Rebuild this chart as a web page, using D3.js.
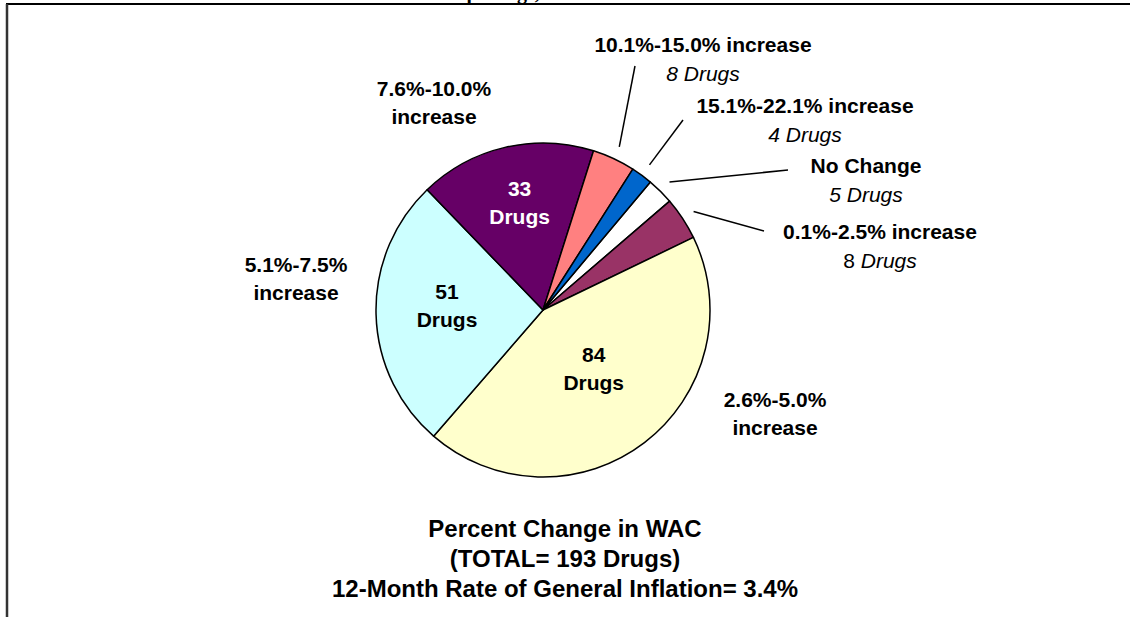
<!DOCTYPE html>
<html>
<head>
<meta charset="utf-8">
<script src="https://cdn.jsdelivr.net/npm/d3@7"></script>
<style>
body { margin: 0; background: #fff; }
svg { display: block; }
text { font-family: Arial, "Liberation Sans", sans-serif; }
</style>
</head>
<body>
<div id="chart"></div>
<script>
// slices, in the order they go round the pie (clockwise)
var categories = ["No Change", "0.1%-2.5% increase", "2.6%-5.0% increase", "5.1%-7.5% increase",
  "7.6%-10.0% increase", "10.1%-15.0% increase", "15.1%-22.1% increase"];
var drugCounts = [5, 8, 84, 51, 33, 8, 4];
var sliceColors = ["#ffffff", "#993366", "#ffffcc", "#ccffff", "#660066", "#ff8080", "#0066cc"];

var titleLines = ["Percent Change in WAC", "(TOTAL= 193 Drugs)", "12-Month Rate of General Inflation= 3.4%"];

var width = 1130, height = 617;
var cx = 543, cy = 310, radius = 167;

// where the outside labels sit (centre x, first baseline) and where their leader lines start;
// inner = how far out (fraction of radius) the count sits inside a big slice
var labelLayout = {
  "No Change":            {x: 866, y: 173, lead: [788, 170], small: true},
  "0.1%-2.5% increase":   {x: 880, y: 239, lead: [764, 231], small: true},
  "2.6%-5.0% increase":   {x: 775, y: 407, inner: 0.5},
  "5.1%-7.5% increase":   {x: 296, y: 272, inner: 0.575},
  "7.6%-10.0% increase":  {x: 434, y: 96, inner: 0.615},
  "10.1%-15.0% increase": {x: 703, y: 52, lead: [635, 66], small: true},
  "15.1%-22.1% increase": {x: 805, y: 113, lead: [683, 120], small: true}
};

var data = categories.map(function(c, i) {
  return {cat: c, value: drugCounts[i], color: sliceColors[i]};
});

var svg = d3.select("#chart").append("svg")
  .attr("width", width)
  .attr("height", height);

svg.append("rect").attr("width", width).attr("height", height).attr("fill", "#fff");

// cut-off page heading above the frame
svg.append("text")
  .attr("x", 445).attr("y", -1)
  .style("font-family", "'Liberation Serif', 'Times New Roman', serif")
  .style("font-weight", "bold").style("font-size", "20px")
  .text("Top Drugs,");

// frame
svg.append("line").attr("x1", 6).attr("x2", width).attr("y1", 4).attr("y2", 4)
  .attr("stroke", "#000").attr("stroke-width", 2);
svg.append("line").attr("x1", 7).attr("x2", 7).attr("y1", 4).attr("y2", height)
  .attr("stroke", "#333").attr("stroke-width", 2.5);

var pie = d3.pie()
  .sort(null)
  .value(function(d) { return d.value; })
  .startAngle(40 * Math.PI / 180)
  .endAngle(40 * Math.PI / 180 + 2 * Math.PI);

var arcs = pie(data);

var arc = d3.arc().innerRadius(0).outerRadius(radius);
var leadArc = d3.arc().innerRadius(radius + 13).outerRadius(radius + 13);

var g = svg.append("g").attr("transform", "translate(" + cx + "," + cy + ")");

g.selectAll("path.slice")
  .data(arcs)
  .enter().append("path")
  .attr("class", "slice")
  .attr("d", arc)
  .attr("fill", function(d) { return d.data.color; })
  .attr("stroke", "#000")
  .attr("stroke-width", 1.5)
  .attr("stroke-linejoin", "round");

// counts inside the big slices
var big = arcs.filter(function(d) { return !labelLayout[d.data.cat].small; });
big.forEach(function(d) {
  var r = radius * labelLayout[d.data.cat].inner;
  var c = d3.arc().innerRadius(r).outerRadius(r).centroid(d);
  var fill = d.data.color == "#660066" ? "#fff" : "#000";
  var t = g.append("text")
    .attr("text-anchor", "middle")
    .style("font-weight", "bold").style("font-size", "21px")
    .attr("fill", fill);
  t.append("tspan").attr("x", c[0]).attr("y", c[1] - 14).text(d.data.value);
  t.append("tspan").attr("x", c[0]).attr("y", c[1] + 14).text("Drugs");
});

// outside labels
arcs.forEach(function(d) {
  var lay = labelLayout[d.data.cat];
  var t = svg.append("text")
    .attr("text-anchor", "middle")
    .style("font-size", "21px");
  if (lay.small) {
    t.append("tspan").attr("x", lay.x).attr("y", lay.y)
      .style("font-weight", "bold").text(d.data.cat);
    var t2 = t.append("tspan").attr("x", lay.x).attr("y", lay.y + 29);
    t2.append("tspan").text(d.data.value + " ");
    t2.append("tspan").style("font-style", "italic").text("Drugs");
    if (d.data.cat != "0.1%-2.5% increase") t2.style("font-style", "italic");
    var p = leadArc.centroid(d);
    svg.append("line")
      .attr("x1", lay.lead[0]).attr("y1", lay.lead[1])
      .attr("x2", cx + p[0]).attr("y2", cy + p[1])
      .attr("stroke", "#000").attr("stroke-width", 1.5);
  } else {
    var parts = d.data.cat.split(" ");
    t.style("font-weight", "bold");
    t.append("tspan").attr("x", lay.x).attr("y", lay.y).text(parts[0]);
    t.append("tspan").attr("x", lay.x).attr("y", lay.y + 28).text(parts[1]);
  }
});

// title under the pie
svg.selectAll("text.title")
  .data(titleLines)
  .enter().append("text")
  .attr("class", "title")
  .attr("x", 565)
  .attr("y", function(d, i) { return 537 + i * 30; })
  .attr("text-anchor", "middle")
  .style("font-weight", "bold").style("font-size", "24px")
  .text(function(d) { return d; });
</script>
</body>
</html>
